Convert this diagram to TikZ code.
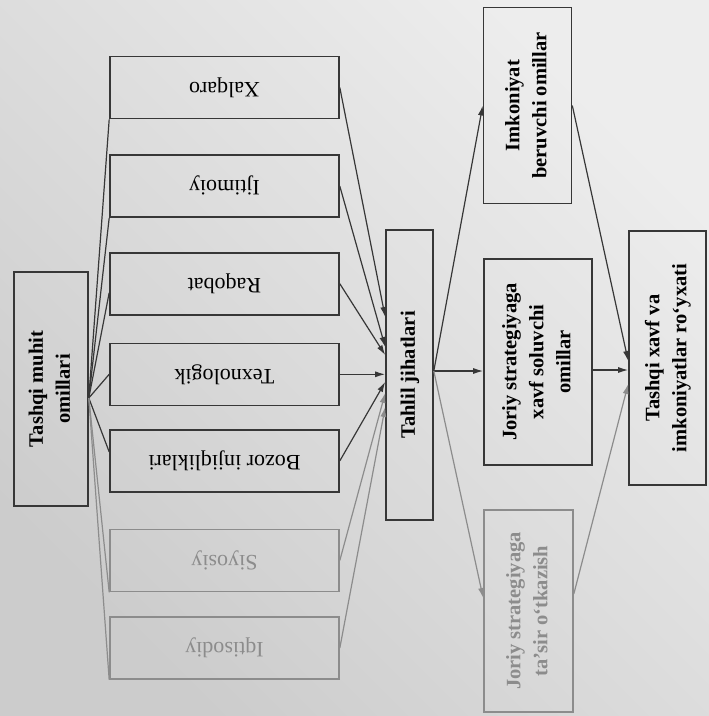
\documentclass[tikz,border=0pt]{standalone}
\usepackage{fontspec}
\setmainfont{Liberation Serif}
\usepackage{graphicx}
\usetikzlibrary{arrows.meta,positioning}
\definecolor{chiziq}{RGB}{55,55,55}
\definecolor{xiraq}{RGB}{140,140,140}
\newcommand{\matn}[2][90]{\rotatebox{#1}{\begin{tabular}{@{}c@{}}#2\end{tabular}}}

\begin{document}
\begin{tikzpicture}[x=1pt, y=1pt,
            quti/.style={rectangle, draw=chiziq, line width=1.6pt, inner sep=0pt},
            omil/.style={quti, minimum width=229pt, minimum height=62pt, font=\fontsize{22}{26}\selectfont},
            qalin/.style={quti, font=\bfseries\fontsize{20.5}{27}\selectfont},
            xira/.style={draw=xiraq, text=xiraq},
            strelka/.style={-{Latex[length=10pt,width=6pt]}, color=chiziq, line width=1.2pt}]
            \shade[top color=gray!14, middle color=gray!20, bottom color=gray!40, shading angle=-45] (0,0) rectangle (709,-716);
            \useasboundingbox (0,0) rectangle (709,-716);
            % chap ustun
            \node[qalin, minimum width=74pt, minimum height=234pt] (tashqi) at (51,-389) {\matn{Tashqi muhit\\omillari}};
            % omillar
            \node[omil]        (xalqaro)    at (224.5,-87.5)        {\matn[180]{Xalqaro}};
            \node[omil]        (ijtimoiy)   [below=35pt of xalqaro]    {\matn[180]{Ijtimoiy}};
            \node[omil]        (raqobat)    [below=34pt of ijtimoiy]   {\matn[180]{Raqobat}};
            \node[omil]        (texnologik) [below=27pt of raqobat]    {\matn[180]{Texnologik}};
            \node[omil]        (bozor)      [below=23pt of texnologik] {\matn[180]{Bozor injiqliklari}};
            \node[omil, xira]  (siyosiy)    [below=36pt of bozor]      {\matn[180]{Siyosiy}};
            \node[omil, xira]  (iqtisodiy)  [below=24pt of siyosiy]    {\matn[180]{Iqtisodiy}};
            % tahlil va natijalar
            \node[qalin, minimum width=47pt, minimum height=290pt] (tahlil) at (409.5,-375) {\matn{Tahlil jihatlari}};
            \node[qalin, minimum width=88pt, minimum height=196pt] (imkoniyat) at (527.5,-105.5) {\matn{Imkoniyat\\beruvchi omillar}};
            \node[qalin, minimum width=108pt, minimum height=206pt] (joriy) at (538,-362) {\matn{Joriy strategiyaga\\xavf soluvchi\\omillar}};
            \node[qalin, xira, minimum width=89pt, minimum height=202pt] (tasir) at (528.5,-611) {\matn{Joriy strategiyaga\\ta’sir o‘tkazish}};
            \node[qalin, minimum width=77pt, minimum height=254pt] (royxat) at (667.5,-358) {\matn{Tashqi xavf va\\imkoniyatlar ro‘yxati}};
            % tarmoqlar
            \path[color=chiziq, line width=1.2pt]
                        ([yshift=-9pt]tashqi.east) edge (xalqaro.south west)
                        ([yshift=-9pt]tashqi.east) edge (ijtimoiy.south west)
                        ([yshift=-9pt]tashqi.east) edge ([yshift=-9pt]raqobat.west)
                        ([yshift=-9pt]tashqi.east) edge (texnologik.west)
                        ([yshift=-9pt]tashqi.east) edge ([yshift=9pt]bozor.west)
                        ([yshift=-9pt]tashqi.east) edge[xira] (siyosiy.south west)
                        ([yshift=-9pt]tashqi.east) edge[xira] (iqtisodiy.south west);
            \path[strelka]
                        (xalqaro.east)    edge ([yshift=58pt]tahlil.west)
                        (ijtimoiy.east)   edge ([yshift=28pt]tahlil.west)
                        (raqobat.east)    edge ([yshift=20pt]tahlil.west)
                        (texnologik.east) edge (texnologik.east -| tahlil.west)
                        (bozor.east)      edge ([yshift=-7pt]tahlil.west)
                        (siyosiy.east)    edge[xira] ([yshift=-18pt]tahlil.west)
                        (iqtisodiy.east)  edge[xira] ([yshift=-32pt]tahlil.west);
            \path[strelka]
                        ([yshift=4pt]tahlil.east) edge (imkoniyat.west)
                        ([yshift=4pt]tahlil.east) edge ([yshift=4pt]tahlil.east -| joriy.west)
                        ([yshift=4pt]tahlil.east) edge[xira] ([yshift=13pt]tasir.west)
                        (imkoniyat.east)  edge ([yshift=-3pt]royxat.west)
                        ([yshift=-12pt]royxat.west -| joriy.east) edge ([yshift=-12pt]royxat.west)
                        ([yshift=17pt]tasir.east) edge[xira] ([yshift=-26pt]royxat.west);
        \end{tikzpicture}
\end{document}
